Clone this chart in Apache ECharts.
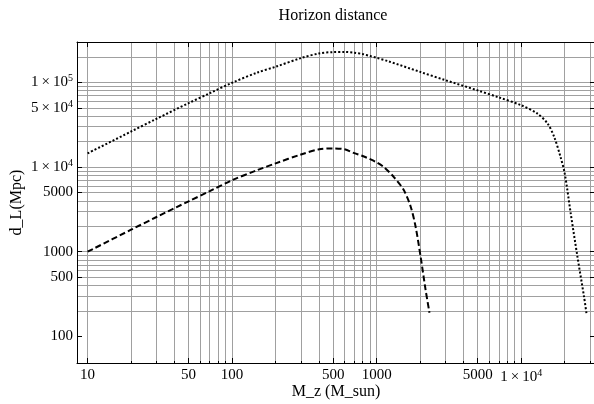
<!DOCTYPE html>
<html>
<head>
<meta charset="utf-8">
<script src="https://cdn.jsdelivr.net/npm/echarts@6/dist/echarts.min.js"></script>
<style>
  html, body { margin: 0; padding: 0; background: #fff; }
  #chart { width: 594px; height: 404px; }
</style>
</head>
<body>
<div id="chart"></div>
<script>
// Labelled tick values
const xLabelVals = [10, 50, 100, 500, 1000, 5000, 10000];
const yLabelVals = [100, 500, 1000, 5000, 10000, 50000, 100000];

// Grid line positions
const xGridVals = [10, 20, 30, 40, 50, 60, 70, 80, 90,
  100, 200, 300, 400, 500, 600, 700, 800, 900,
  1000, 2000, 3000, 4000, 5000, 6000, 7000, 8000, 9000,
  10000, 20000, 30000];
const yGridVals = [200, 300, 400, 500, 600, 700, 800, 900,
  1000, 2000, 3000, 4000, 5000, 6000, 7000, 8000, 9000,
  10000, 20000, 30000, 40000, 50000, 60000, 70000, 80000, 90000,
  100000, 200000, 300000];

// Upper (dotted) curve: redshifted mass vs horizon distance
const massUpper = [10, 20, 30, 50, 70, 100, 150, 200, 300, 400, 500, 600, 700, 800, 900,
  1000, 1200, 2000, 3000, 5000, 7000, 10000, 12900, 15200, 16900, 18700,
  20000, 22000, 24500, 27200, 28400];
const distUpper = [14500, 26300, 37200, 56900, 74500, 99000, 131000, 153000, 194000, 220000,
  228000, 229000, 224000, 216000, 205000, 195000, 178000, 133000, 106000,
  80400, 66500, 53700, 43000, 32800, 22800, 13200, 8430, 2840, 871, 295, 178];

// Lower (dashed) curve
const massLower = [10, 20, 30, 50, 70, 100, 150, 200, 300, 400, 500, 600, 700, 800, 900,
  1000, 1120, 1315, 1540, 1720, 1860, 2015, 2180, 2320];
const distLower = [1000, 1820, 2570, 3940, 5190, 7000, 9230, 11070, 14100, 16200, 16600,
  16200, 14600, 13500, 12400, 11350, 10000, 7620, 5350, 3400, 1970, 871, 355, 190];

const X_MIN = 8.45, X_MAX = 32400;
const Y_MIN = 48.5, Y_MAX = 300000;

const FONT = 'Liberation Serif';

function sciLabel(v) {
  if (v >= 10000) {
    const e = Math.floor(Math.log10(v) + 1e-9);
    const m = Math.round(v / Math.pow(10, e));
    return '{b|' + m + '\u2009\u00d7\u200910}{s|' + e + '}';
  }
  return '{b|' + v + '}';
}
const richStyle = {
  b: { fontFamily: FONT, fontSize: 15, color: '#000' },
  s: { fontFamily: FONT, fontSize: 10, color: '#000', padding: [0, 0, 8, 0] }
};

const frameLine = { show: true, onZero: false, lineStyle: { color: '#000', width: 1 } };
const gridLineStyle = { color: '#a0a0a0', width: 1 };

const chart = echarts.init(document.getElementById('chart'));
chart.setOption({
  animation: false,
  backgroundColor: '#fff',
  title: {
    text: 'Horizon distance',
    left: 328, top: 3, textAlign: 'center',
    textStyle: { fontFamily: FONT, fontSize: 16, fontWeight: 'normal', color: '#000' }
  },
  grid: { left: 77, right: -1, top: 42, bottom: 41, containLabel: false, outerBoundsMode: 'none' },
  xAxis: [
    {
      type: 'log', min: X_MIN, max: X_MAX, position: 'bottom',
      name: 'M_z (M_sun)', nameLocation: 'middle', nameGap: 21, nameMoveOverlap: false,
      nameTextStyle: { fontFamily: FONT, fontSize: 16, color: '#000' },
      axisLine: frameLine,
      axisTick: { show: true, inside: true, length: 5, customValues: xLabelVals, lineStyle: { color: '#000' } },
      axisLabel: { show: true, customValues: xLabelVals, formatter: sciLabel, rich: richStyle, margin: 5 },
      splitLine: { show: false }, minorTick: { show: false }
    },
    {
      type: 'log', min: X_MIN, max: X_MAX, position: 'top',
      axisLine: frameLine,
      axisTick: { show: true, inside: true, length: 5, customValues: xLabelVals, lineStyle: { color: '#000' } },
      axisLabel: { show: false }, splitLine: { show: false }
    },
    {
      type: 'log', min: X_MIN, max: X_MAX, position: 'bottom',
      axisLine: { show: false, onZero: false },
      axisTick: { show: true, inside: true, length: 2, customValues: xGridVals, lineStyle: { color: '#000' } },
      axisLabel: { show: false },
      splitLine: { show: true, lineStyle: gridLineStyle }
    }
  ],
  yAxis: [
    {
      type: 'log', min: Y_MIN, max: Y_MAX, position: 'left',
      name: 'd_L(Mpc)', nameLocation: 'middle', nameGap: 52, nameRotate: 90, nameMoveOverlap: false,
      nameTextStyle: { fontFamily: FONT, fontSize: 16, color: '#000' },
      axisLine: frameLine,
      axisTick: { show: true, inside: true, length: 5, customValues: yLabelVals, lineStyle: { color: '#000' } },
      axisLabel: { show: true, customValues: yLabelVals, formatter: sciLabel, rich: richStyle, margin: 4 },
      splitLine: { show: false }
    },
    {
      type: 'log', min: Y_MIN, max: Y_MAX, position: 'right',
      axisLine: frameLine,
      axisTick: { show: true, inside: true, length: 5, customValues: yLabelVals, lineStyle: { color: '#000' } },
      axisLabel: { show: false }, splitLine: { show: false }
    },
    {
      type: 'log', min: Y_MIN, max: Y_MAX, position: 'left',
      axisLine: { show: false, onZero: false },
      axisTick: { show: false, customValues: yGridVals },
      axisLabel: { show: false },
      splitLine: { show: true, lineStyle: gridLineStyle }
    }
  ],
  series: [
    {
      type: 'line', xAxisIndex: 0, yAxisIndex: 0,
      data: massUpper.map((m, i) => [m, distUpper[i]]),
      showSymbol: false, smooth: 0.3,
      lineStyle: { color: '#000', width: 2, type: [2, 2] },
      z: 5
    },
    {
      type: 'line', xAxisIndex: 0, yAxisIndex: 0,
      data: massLower.map((m, i) => [m, distLower[i]]),
      showSymbol: false, smooth: 0.3,
      lineStyle: { color: '#000', width: 2, type: [6, 3] },
      z: 5
    }
  ]
});
</script>
</body>
</html>
